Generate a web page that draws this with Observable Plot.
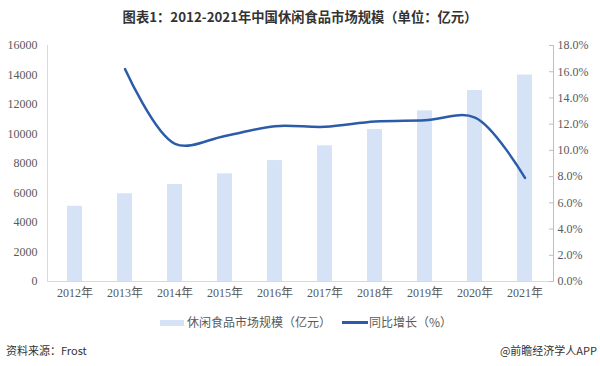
<!DOCTYPE html>
<html>
<head>
<meta charset="utf-8">
<script src="https://cdn.jsdelivr.net/npm/d3@7"></script>
<script src="https://cdn.jsdelivr.net/npm/@observablehq/plot@0.6"></script>
<style>
  html, body { margin: 0; padding: 0; background: #fff; }
  #wrap { position: relative; width: 600px; height: 366px; overflow: hidden; font-family: "Noto Sans CJK SC", "Noto Sans", sans-serif; }
  #title { position: absolute; left: 0; top: 0; width: 600px; height: 34px; line-height: 34px; text-align: center; font-size: 13.3px; font-weight: bold; color: #333; }
  #chart { position: absolute; left: 0; top: 35px; }
  #legend { position: absolute; left: 0; top: 312px; width: 600px; height: 20px; font-size: 12px; color: #595959; }
  .sw { position: absolute; }
  .lt { position: absolute; top: 0; line-height: 20px; white-space: nowrap; }
  #src { position: absolute; left: 6px; top: 342px; font-size: 11px; color: #333; line-height: 16px; }
  #brand { position: absolute; right: 3px; top: 342px; font-size: 11px; color: #333; line-height: 16px; }
</style>
</head>
<body>
<div id="wrap">
  <div id="title">图表1：2012-2021年中国休闲食品市场规模（单位：亿元）</div>
  <div id="chart"></div>
  <div id="legend">
    <div class="sw" style="left:160px; top:8px; width:24px; height:6px; background:#d6e3f6;"></div>
    <div class="lt" style="left:187px;">休闲食品市场规模（亿元）</div>
    <div class="sw" style="left:342px; top:9px; width:26px; height:3px; background:#2c5ca8;"></div>
    <div class="lt" style="left:369px;">同比增长（%）</div>
  </div>
  <div id="src">资料来源：Frost</div>
  <div id="brand">@前瞻经济学人APP</div>
</div>
<script>
const years = ["2012年","2013年","2014年","2015年","2016年","2017年","2018年","2019年","2020年","2021年"];
const marketSize = [5100, 5950, 6580, 7300, 8200, 9200, 10300, 11570, 12950, 14000];
const growthRate = [null, 16.2, 10.5, 11.1, 11.85, 11.8, 12.2, 12.3, 12.5, 7.9];
const leftTicks = [0, 2000, 4000, 6000, 8000, 10000, 12000, 14000, 16000];
const rightTicks = [0, 2, 4, 6, 8, 10, 12, 14, 16, 18];

const k = 16000 / 18;
const barData = years.map((y, i) => ({year: y, size: marketSize[i]}));
const lineData = years.map((y, i) => ({year: y, g: growthRate[i]})).filter(d => d.g != null);

const chart = Plot.plot({
  width: 600,
  height: 275,
  marginTop: 10,
  marginBottom: 29,
  marginLeft: 47,
  marginRight: 47,
  style: { fontFamily: "'Liberation Serif', 'Times New Roman', 'Noto Sans CJK SC', serif", fontSize: "12px", color: "#595959", background: "transparent" },
  x: { domain: years, paddingInner: 0.7, paddingOuter: 0.35, axis: null, label: null },
  y: { domain: [0, 16000], axis: null, label: null },
  marks: [
    Plot.barY(barData, { x: "year", y: "size", fill: "#d6e3f6" }),
    Plot.frame({ anchor: "left", stroke: "#d9d9d9" }),
    Plot.frame({ anchor: "right", stroke: "#bfbfbf" }),
    Plot.ruleY([0], { stroke: "#d9d9d9" }),
    Plot.axisY(leftTicks, { anchor: "left", tickSize: 0, tickPadding: 10, label: null, tickFormat: d => String(d) }),
    Plot.axisY(rightTicks.map(v => v * k), { anchor: "right", tickSize: 5, dx: -5, stroke: "#bfbfbf", label: null, tickFormat: () => "" }),
    Plot.axisY(rightTicks.map(v => v * k), { anchor: "right", tickSize: 0, tickPadding: 4, label: null, tickFormat: v => (v / k).toFixed(1) + "%" }),
    Plot.axisX({ tickSize: 0, tickPadding: 7, label: null }),
    Plot.line(lineData, { x: "year", y: d => d.g * k, stroke: "#2c5ca8", strokeWidth: 2.5, curve: "catmull-rom" })
  ]
});
document.getElementById("chart").appendChild(chart);
</script>
</body>
</html>
